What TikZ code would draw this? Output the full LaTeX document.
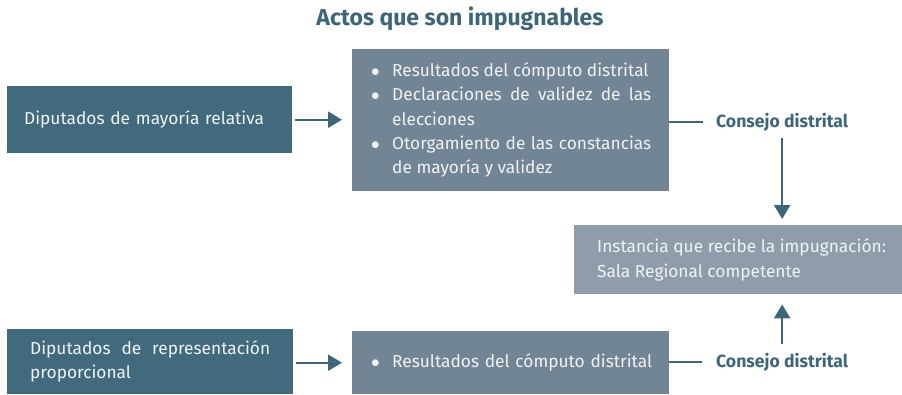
\documentclass[tikz,border=0pt]{standalone}
\usepackage{fontspec}
\setmainfont{Fira Sans}
\usetikzlibrary{arrows.meta}
\definecolor{cdark}{HTML}{416B7D}
\definecolor{cmid}{HTML}{728594}
\definecolor{clight}{HTML}{8F9DAB}
\definecolor{ctitle}{HTML}{3D6678}
\definecolor{ctext}{HTML}{F0F3F5}
\newcommand{\bitem}[1]{\hangindent=22pt\hangafter=1\noindent\makebox[22pt][l]{\hspace{1pt}$\bullet$}#1\par}
\tikzset{
  box/.style={anchor=north west, inner ysep=0pt, text=ctext, font=\fontsize{17.3}{24.3}\selectfont},
  conn/.style={draw=ctitle, line width=2.4pt},
  arr/.style={conn, -{Triangle[length=14pt,width=16pt]}},
  cons/.style={text=ctitle, font=\fontsize{17.6}{20}\selectfont\bfseries, inner sep=0pt}
}
\begin{document}
\begin{tikzpicture}[x=1pt,y=-1pt]
\useasboundingbox (0,0) rectangle (902,394);
\node[text=ctitle, font=\fontsize{23}{26}\selectfont\bfseries, inner sep=0pt] (title) at (460,19) {Actos que son impugnables};

\node[box, fill=cdark, minimum width=285pt, minimum height=67pt, inner xsep=17pt, text width=251pt, align=left] (A) at (7,86) {Diputados de mayoría relativa};

\node[box, fill=cmid, minimum width=315pt, minimum height=142pt, inner xsep=18pt, text width=281pt, align=justify] (B) at (352,49) {%
\bitem{Resultados del cómputo distrital}
\bitem{Declaraciones de validez de las\linebreak elecciones}
\bitem{Otorgamiento de las constancias\linebreak de mayoría y validez}};

\node[box, fill=clight, minimum width=328pt, minimum height=69pt] (C) at (574,225) {};
\node[anchor=west, text=ctext, font=\fontsize{17.3}{24.3}\selectfont, align=left, inner sep=0pt] (Ct) at (597,260) {Instancia que recibe la impugnación:\\Sala Regional competente};

\node[box, fill=cdark, minimum width=285pt, minimum height=65pt, inner xsep=23pt, text width=240pt, align=justify] (D) at (7,329) {Diputados de representación\linebreak proporcional};

\node[box, fill=cmid, minimum width=315pt, minimum height=63pt, inner xsep=18pt, text width=281pt, align=left] (E) at (352,331) {\bitem{\mbox{Resultados del cómputo distrital}}};

\node[cons, anchor=west] (c1) at (716,122) {Consejo distrital};
\node[cons, anchor=west] (c2) at (716,362) {Consejo distrital};

\draw[arr] ([xshift=3pt]A.east) -- ([xshift=-10pt]B.west |- A.east);
\draw[arr] ([xshift=3pt]D.east |- E.west) -- ([xshift=-10pt]E.west);
\draw[conn] (B.east |- c1.west) -- ([xshift=-13pt]c1.west);
\draw[conn] (E.east |- c2.west) -- ([xshift=-14pt]c2.west);
\draw[arr] ([yshift=-7pt]c1.south) -- ([yshift=6pt]c1.south |- C.north);
\draw[arr] ([yshift=9pt]c2.north) -- ([yshift=-10pt]c2.north |- C.south);
\end{tikzpicture}
\end{document}
